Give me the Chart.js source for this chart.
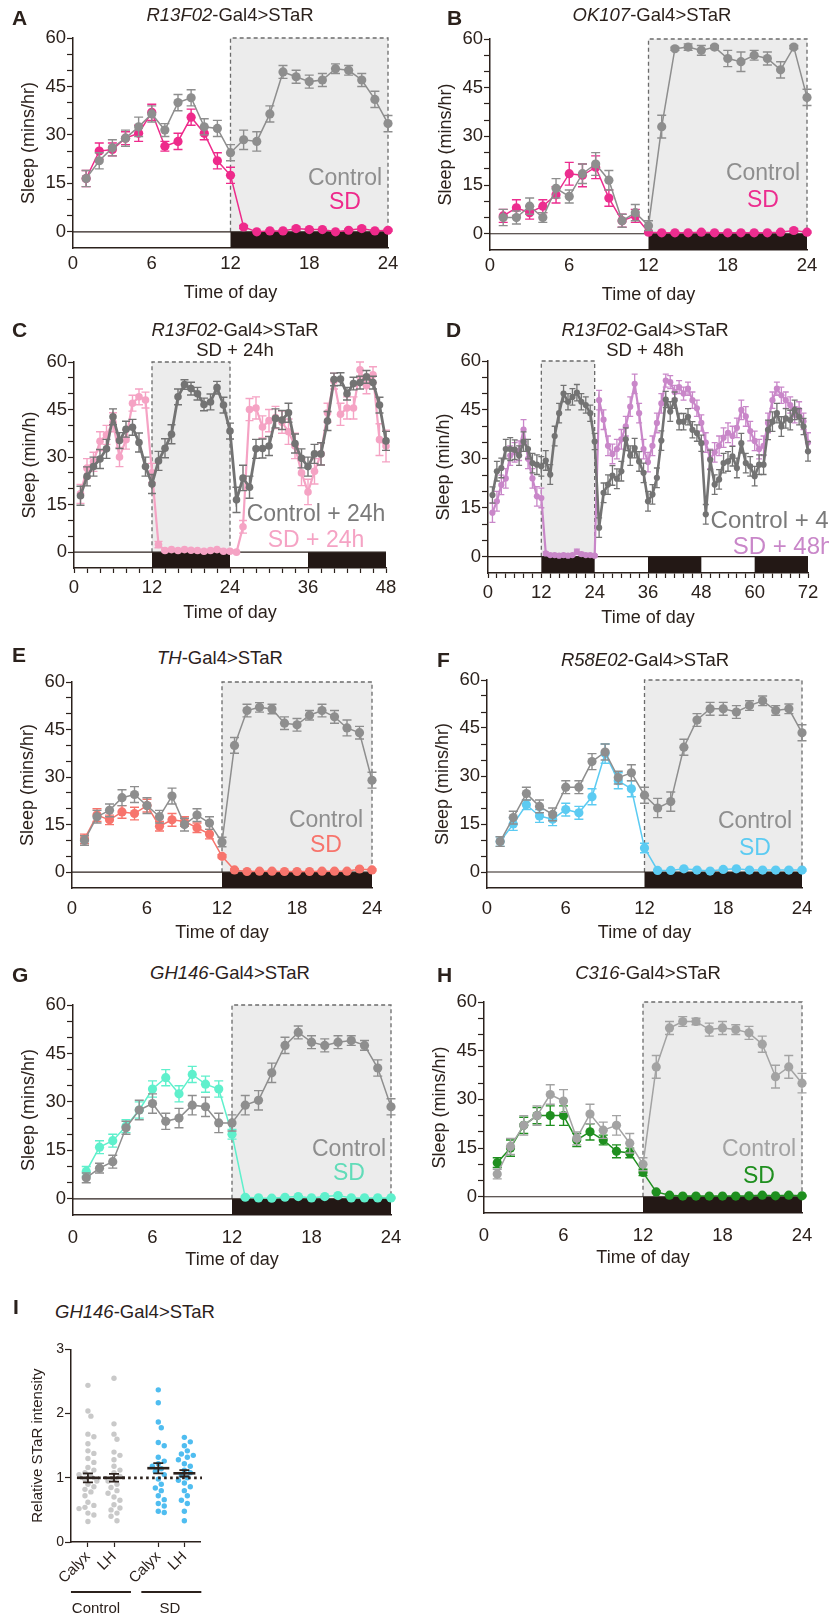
<!DOCTYPE html>
<html>
<head>
<meta charset="utf-8">
<script src="https://cdn.jsdelivr.net/npm/chart.js@4.4.1/dist/chart.umd.min.js"></script>
<style>
body { margin: 0; width: 829px; height: 1619px; position: relative; overflow: hidden; background: #fff;
       font-family: "Liberation Sans", Arial, sans-serif; color: #2b211c; }
canvas { position: absolute; }
.ttl { position: absolute; white-space: nowrap; transform: translate(-50%, -50%); font-size: 18.5px; line-height: 20px; z-index: 2; }
.let { position: absolute; font-weight: bold; font-size: 21px; transform: translateY(-50%); z-index: 2; }
.lg { position: absolute; white-space: nowrap; transform: translate(-50%, -50%); font-size: 23px; line-height: 1; z-index: 2; }
.grp { position: absolute; white-space: nowrap; transform: translate(-50%, -50%); font-size: 15px; z-index: 2; }
</style>
</head>
<body>

<div class="let" style="left:12px;top:18px">A</div>
<div class="let" style="left:447px;top:18px">B</div>
<div class="let" style="left:12px;top:330px">C</div>
<div class="let" style="left:446px;top:330px">D</div>
<div class="let" style="left:12px;top:655px">E</div>
<div class="let" style="left:437px;top:660px">F</div>
<div class="let" style="left:12px;top:975px">G</div>
<div class="let" style="left:437px;top:975px">H</div>
<div class="let" style="left:13px;top:1307px">I</div>

<div class="ttl" style="left:230px;top:15px"><i>R13F02</i>-Gal4&gt;STaR</div>
<div class="ttl" style="left:652px;top:15px"><i>OK107</i>-Gal4&gt;STaR</div>
<div class="ttl" style="left:235px;top:340px;text-align:center"><i>R13F02</i>-Gal4&gt;STaR<br>SD + 24h</div>
<div class="ttl" style="left:645px;top:340px;text-align:center"><i>R13F02</i>-Gal4&gt;STaR<br>SD + 48h</div>
<div class="ttl" style="left:220px;top:658px"><i>TH</i>-Gal4&gt;STaR</div>
<div class="ttl" style="left:645px;top:660px"><i>R58E02</i>-Gal4&gt;STaR</div>
<div class="ttl" style="left:230px;top:973px"><i>GH146</i>-Gal4&gt;STaR</div>
<div class="ttl" style="left:648px;top:973px"><i>C316</i>-Gal4&gt;STaR</div>
<div class="ttl" style="left:135px;top:1312px"><i>GH146</i>-Gal4&gt;STaR</div>

<div class="lg" style="left:345px;top:177px;color:#8e8e8e">Control</div>
<div class="lg" style="left:345px;top:201px;color:#ee2a8b">SD</div>
<div class="lg" style="left:763px;top:172px;color:#8e8e8e">Control</div>
<div class="lg" style="left:763px;top:199px;color:#ec2d8f">SD</div>
<div class="lg" style="left:316px;top:513px;color:#7a7a7a">Control + 24h</div>
<div class="lg" style="left:316px;top:539px;color:#f5a3c4">SD + 24h</div>
<div class="lg" style="left:783px;top:520px;color:#7a7a7a;font-size:24px">Control + 48h</div>
<div class="lg" style="left:783px;top:546px;color:#c987c9;font-size:24px">SD + 48h</div>
<div class="lg" style="left:326px;top:819px;color:#8e8e8e">Control</div>
<div class="lg" style="left:326px;top:844px;color:#f7746c">SD</div>
<div class="lg" style="left:755px;top:820px;color:#8e8e8e">Control</div>
<div class="lg" style="left:755px;top:847px;color:#5ccbf2">SD</div>
<div class="lg" style="left:349px;top:1148px;color:#8e8e8e">Control</div>
<div class="lg" style="left:349px;top:1172px;color:#62dcb9">SD</div>
<div class="lg" style="left:759px;top:1148px;color:#a3a3a3">Control</div>
<div class="lg" style="left:759px;top:1175px;color:#1f8f1f">SD</div>

<div class="grp" style="left:96px;top:1607px">Control</div>
<div class="grp" style="left:170px;top:1607px">SD</div>

<script>
// ---- data ----
const hours24 = [1, 2, 3, 4, 5, 6, 7, 8, 9, 10, 11, 12, 13, 14, 15, 16, 17, 18, 19, 20, 21, 22, 23, 24];
const hours48 = [1, 2, 3, 4, 5, 6, 7, 8, 9, 10, 11, 12, 13, 14, 15, 16, 17, 18, 19, 20, 21, 22, 23, 24,
                 25, 26, 27, 28, 29, 30, 31, 32, 33, 34, 35, 36, 37, 38, 39, 40, 41, 42, 43, 44, 45, 46, 47, 48];
const hours72 = [1, 2, 3, 4, 5, 6, 7, 8, 9, 10, 11, 12, 13, 14, 15, 16, 17, 18, 19, 20, 21, 22, 23, 24,
                 25, 26, 27, 28, 29, 30, 31, 32, 33, 34, 35, 36, 37, 38, 39, 40, 41, 42, 43, 44, 45, 46, 47, 48,
                 49, 50, 51, 52, 53, 54, 55, 56, 57, 58, 59, 60, 61, 62, 63, 64, 65, 66, 67, 68, 69, 70, 71, 72];

// A  R13F02
const ctrlA = [16.5, 22, 26, 29, 32.5, 36.5, 31.5, 40, 41.5, 32.5, 32, 24.5, 28.5, 28, 36.5, 49.5, 48, 46.5, 47, 50.5, 50, 47, 41, 33.5];
const ctrlAErr = [2.5, 2.5, 2.5, 2.5, 3, 2.5, 2, 2.5, 2.5, 2.5, 2.5, 2.5, 3, 3, 2.5, 2, 2, 2, 2, 1.5, 1.5, 2, 2.5, 2.5];
const sdA = [16.5, 25, 25.5, 29, 30.5, 37, 26.5, 28, 35.5, 30.5, 22, 17.5, 1.5, 0, 0.3, 0.3, 1, 0.7, 0.7, 0, 0.5, 1, 0.3, 0.5];
const sdAErr = [2.5, 2.5, 2, 2, 2.5, 2.5, 1.5, 2.5, 2.5, 2, 2.5, 2.5, 0.5, 0, 0.3, 0.3, 0.5, 0.3, 0.3, 0, 0.3, 0.5, 0.3, 0.3];

// B  OK107
const ctrlB = [5, 5, 8.5, 5, 14, 11.5, 18.5, 21.5, 16.5, 4, 6.5, 2.5, 33, 57, 57.5, 56.5, 57.5, 54, 53, 55, 54, 50.5, 57.5, 42];
const ctrlBErr = [2.5, 2, 2.5, 1.5, 3, 2, 3, 3.5, 3, 2, 2.5, 1.5, 3.5, 0.5, 1, 1.5, 0.5, 2.5, 3, 1.5, 2, 2.5, 0.5, 2.5];
const sdB = [5.5, 8, 6.5, 8.5, 12, 18.5, 18, 20.5, 11, 4, 5.5, 0.5, 0.3, 0.3, 0.3, 0.5, 0.3, 0.3, 0.3, 0.3, 0.3, 0.5, 1, 0.5];
const sdBErr = [2, 2.5, 2, 2, 2.5, 3.5, 3.5, 3.5, 2.5, 2, 2, 0.3, 0.2, 0.2, 0.2, 0.3, 0.2, 0.2, 0.2, 0.2, 0.2, 0.3, 0.5, 0.3];

// C  SD + 24h
const ctrlC = [17.8, 23.9, 27, 29.4, 32.6, 42.7, 35.2, 38.8, 39.4, 34.6, 27, 21.5, 28.8, 32.8, 37.2, 49, 52.9, 51.6, 50, 46.6, 47.4, 51.9, 46.4, 38.2,
               16.5, 23.4, 20.5, 32.6, 32.7, 33.5, 42.2, 41.7, 44, 34.3, 29.6, 27, 31, 31, 41.4, 54.5, 54.6, 50, 53.2, 53.5, 55.3, 53.5, 46.4, 35.1];
const ctrlCErr = [3, 3, 3, 3, 3, 2.5, 2.5, 2.5, 2.5, 3, 3, 3, 3, 3, 3, 2.5, 1.5, 2, 2, 2, 2.5, 2, 2.5, 2.5,
                  4, 4, 3.5, 3, 3, 3, 3, 3, 3, 3, 3, 3, 3, 3.5, 3, 2, 2, 2, 2, 2, 2, 2, 2.5, 3];
const sdC = [18.4, 26.5, 28.5, 35, 37, 41, 30, 35.5, 47, 49, 48, 25, 2.4, 0.5, 0.8, 0.5, 0.8, 0.6, 0.5, 0.3, 0.5, 0.8, 0.3, 0.3,
             0, 8, 45, 45.5, 39.5, 41.5, 42.5, 41, 38, 33.5, 25, 19, 25.5, 31, 44, 54, 43.5, 45.5, 45.5, 57.5, 52.5, 56, 35.5, 33.5];
const sdCErr = [3, 3, 3, 3, 3, 3, 3, 3, 2.5, 2.5, 2.5, 3, 1, 0.3, 0.3, 0.3, 0.3, 0.3, 0.3, 0.3, 0.3, 0.3, 0.3, 0.3,
                0, 2, 3.5, 3.5, 3.5, 3.5, 3.5, 3.5, 4, 4, 4, 4, 4, 3.5, 3, 2.5, 3.5, 3.5, 3.5, 2.5, 2.5, 2.5, 5, 5];

// D  SD + 48h
const ctrlD = [18.9, 26.2, 27.2, 33, 33, 32.8, 31, 35.3, 33, 28.7, 28.2, 27.7, 29.5, 25.2, 37, 44, 50, 47.5, 49, 50.3, 47.5, 46.5, 44, 35.3,
               8.9, 19.6, 22.1, 24.9, 23.9, 26.2, 36, 31, 33.3, 29.2, 25.7, 17, 19.1, 24.2, 35.6, 48.2, 44.5, 48, 41.4, 41.4, 42.9, 38.9, 37.9, 34.8,
               13, 29.7, 22.1, 23.7, 28.7, 29.2, 30.8, 27.2, 34.8, 28.7, 27.7, 24.7, 28.2, 28.2, 38.9, 41.4, 44, 39.9, 42.4, 41.9, 45, 42.9, 39.9, 32.3];
const ctrlDErr = [2.5, 3, 3, 3, 3.5, 3, 3, 3, 3, 3, 3, 3, 3, 3, 3, 3, 2.5, 2.5, 2.5, 2.5, 2.5, 2.5, 2.5, 2.5,
                  3, 3, 3, 3, 3, 3, 3.5, 3, 3, 3, 3, 3, 3, 3, 3, 2.5, 3, 2.5, 2.5, 2.5, 2.5, 2.5, 2.5, 2.5,
                  3, 3, 3, 3, 3, 3, 3, 3, 3, 3, 3, 3, 3, 3, 3, 3, 3, 3, 3, 3, 3, 2.5, 2.5, 3];
const sdD = [13.5, 17, 22, 24, 31, 32, 32.5, 39, 30, 24, 18.5, 18, 1, 0.5, 0.5, 0.3, 0.5, 0.3, 0.5, 1.5, 0.8, 0.5, 0.5, 0.3,
             48, 42, 34, 31.5, 33, 36, 40, 46, 53, 44, 33, 29, 34, 41, 47, 54, 53.5, 50.5, 52, 50, 51.5, 48, 45.5, 41,
             35, 30, 32, 34, 36.5, 38, 37, 39.5, 45, 43, 38.5, 35.5, 33, 34, 41, 48, 51.5, 49.5, 48, 46.5, 43.5, 45, 41.5, 35];
const sdDErr = [3, 3, 3, 3, 3, 3, 3, 3, 3, 3, 3, 3, 0.5, 0.3, 0.3, 0.3, 0.3, 0.3, 0.3, 0.8, 0.5, 0.3, 0.3, 0.3,
                3, 3, 3, 3, 3, 3, 3, 3, 3, 3, 3, 3, 3, 3, 3, 2, 2, 2, 2, 2, 2, 2.5, 2.5, 2.5,
                3, 3, 3, 3, 3, 3, 3, 3, 3, 3, 3, 3, 3, 3, 3, 2.5, 2, 2.5, 2.5, 2.5, 2.5, 2.5, 2.5, 3];

// E  TH
const ctrlE = [10, 17.5, 19.5, 23.5, 24.5, 21, 17.5, 24, 15, 18, 15.5, 9.5, 40, 51, 52, 51.5, 47, 46.5, 49.5, 51, 49, 45.5, 44, 29];
const ctrlEErr = [1.5, 2, 2, 2.5, 2.5, 2.5, 2, 2.5, 2, 2, 2, 1.5, 2.5, 2, 1.5, 1.5, 2, 2, 1.5, 2, 2, 2.5, 2, 2.5];
const sdE = [10.5, 18, 16.5, 19, 18.5, 21, 14.5, 16.5, 16, 14, 12, 5, 0.7, 0.2, 0.3, 0.3, 0.2, 0.2, 0.2, 0.3, 0.3, 0.3, 1, 0.7];
const sdEErr = [1.5, 2, 1.5, 2, 2, 2, 1.5, 2, 1.5, 1.5, 1.5, 0.5, 0.3, 0.2, 0.2, 0.2, 0.2, 0.2, 0.2, 0.2, 0.2, 0.2, 0.3, 0.3];

// F  R58E02
const ctrlF = [9.5, 17, 24.5, 20.5, 18, 26.5, 26.5, 34.5, 37.5, 29.5, 31, 24, 20, 22, 39, 47.5, 51, 51, 50, 52, 53.5, 50.5, 51, 43.5];
const ctrlFErr = [1.5, 2, 2, 2, 2, 2, 2, 2.5, 2.5, 2, 2.5, 2.5, 3, 3, 2.5, 2, 2, 2, 2, 1.5, 1.5, 1.5, 1.5, 2.5];
const sdF = [9.5, 15, 21, 17.5, 16.5, 19.5, 18.5, 23.5, 37, 28.5, 26, 7.5, 0.5, 0.5, 1, 0.6, 0.3, 0.8, 1, 0.6, 0.6, 0.6, 0.6, 0.6];
const sdFErr = [1.5, 2, 1.5, 2, 2, 2, 2, 2.5, 3, 2.5, 2.5, 1.5, 0.3, 0.3, 0.3, 0.3, 0.3, 0.3, 0.3, 0.3, 0.3, 0.3, 0.3, 0.3];

// G  GH146
const ctrlG = [6.5, 9.5, 11.5, 22, 27.5, 29.5, 24, 25, 29, 28.5, 23.5, 23.5, 29, 30.5, 39, 47.5, 51.5, 48.5, 47.5, 48.5, 49, 47.5, 40.5, 28.5];
const ctrlGErr = [1.5, 1.5, 2, 2, 3, 3, 2.5, 3, 3, 3, 3, 2.5, 3, 3, 3, 2.5, 2, 2, 2, 2, 1.5, 1.5, 2.5, 2.5];
const sdG = [8.5, 16, 18, 22.5, 27.5, 34, 37.5, 32.5, 38.5, 35.5, 34, 20, 0.5, 0.3, 0.2, 0.5, 0.7, 0.3, 0.7, 1, 0.3, 0.3, 0.3, 0.3];
const sdGErr = [1.5, 2, 2, 2, 2.5, 2.5, 2.5, 2.5, 2.5, 2.5, 2.5, 1.5, 0.3, 0.2, 0.2, 0.2, 0.3, 0.2, 0.3, 0.3, 0.2, 0.2, 0.2, 0.2];

// H  C316
const ctrlH = [7, 15.5, 22, 25, 31.5, 29.5, 18, 25.5, 20.5, 22, 16.5, 10, 40, 52, 54, 54, 51.5, 52, 51.5, 50.5, 47, 37, 40, 35];
const ctrlHErr = [1.5, 2.5, 3, 3, 3, 3.5, 2, 3, 2.5, 3, 3, 2, 3.5, 2, 1.5, 1, 2, 2, 1.5, 2, 2.5, 3.5, 3.5, 3];
const sdH = [10.5, 15, 22, 25, 25, 25, 17.5, 20, 17.5, 14, 13.5, 7.5, 1.5, 0.5, 0.2, 0.2, 0.2, 0.2, 0.2, 0.3, 0.5, 0.3, 0.5, 0.3];
const sdHErr = [1.5, 2.5, 2.5, 2.5, 3, 3, 2, 2.5, 1.5, 2, 1.5, 1, 0.3, 0.2, 0.2, 0.2, 0.2, 0.2, 0.2, 0.2, 0.2, 0.2, 0.2, 0.2];

// I  relative STaR intensity
const iLabels = ['Calyx', 'LH', 'Calyx', 'LH'];
const iCtrlCalyx = [2.44, 2.04, 1.96, 1.68, 1.64, 1.53, 1.42, 1.38, 1.30, 1.24, 1.16, 1.12, 1.08, 1.05, 1.02, 0.98, 0.95,
                    0.90, 0.86, 0.82, 0.78, 0.72, 0.62, 0.57, 0.54, 0.52, 0.45, 0.42, 0.32];
const iCtrlLH = [2.55, 1.84, 1.68, 1.60, 1.40, 1.35, 1.28, 1.18, 1.12, 1.08, 1.02, 0.98, 0.95, 0.90, 0.85, 0.80, 0.76,
                 0.70, 0.65, 0.58, 0.53, 0.50, 0.45, 0.40, 0.33];
const iSdCalyx = [2.37, 2.17, 1.87, 1.78, 1.55, 1.50, 1.32, 1.26, 1.22, 1.18, 1.14, 1.10, 1.05, 0.98, 0.90, 0.84, 0.80,
                  0.72, 0.66, 0.60, 0.56, 0.48, 0.46];
const iSdLH = [1.63, 1.56, 1.50, 1.42, 1.37, 1.35, 1.32, 1.28, 1.22, 1.18, 1.12, 1.08, 1.04, 1.00, 0.96, 0.92, 0.86,
               0.80, 0.72, 0.65, 0.60, 0.48, 0.33];
const iMean = [1.0, 1.0, 1.15, 1.07];
const iSem = [0.07, 0.06, 0.08, 0.05];

// ---- drawing ----
const INK = '#2b211c';
const GRAY = '#8e8e8e';
const DARKGRAY = '#737373';
Chart.defaults.font.family = '"Liberation Sans", Arial, sans-serif';
Chart.defaults.color = INK;

const Y_W = 73, PAD_T = 14, X_H = 62;

function decorPlugin(p) {
  return {
    id: 'decor',
    beforeDatasetsDraw(chart) {
      const { ctx, scales: { x, y } } = chart;
      ctx.save();
      // light phase box
      const bx0 = x.getPixelForValue(p.shade[0]), bx1 = x.getPixelForValue(p.shade[1]);
      const by0 = y.getPixelForValue(60), by1 = y.getPixelForValue(0);
      ctx.fillStyle = '#ececec';
      ctx.fillRect(bx0, by0, bx1 - bx0, by1 - by0);
      ctx.setLineDash([4, 3]);
      ctx.strokeStyle = '#6b6b6b';
      ctx.lineWidth = 1.3;
      ctx.beginPath();
      ctx.moveTo(bx0, by1); ctx.lineTo(bx0, by0); ctx.lineTo(bx1, by0); ctx.lineTo(bx1, by1);
      ctx.stroke();
      ctx.setLineDash([]);
      // light/dark bar
      const z = y.getPixelForValue(0), b = y.getPixelForValue(-5);
      ctx.fillStyle = '#231815';
      p.dark.forEach(([a, c]) => {
        const xa = x.getPixelForValue(a), xc = x.getPixelForValue(c);
        ctx.fillRect(xa, z, xc - xa, b - z);
      });
      ctx.strokeStyle = INK;
      ctx.lineWidth = 1.2;
      ctx.beginPath();
      ctx.moveTo(x.getPixelForValue(0), z);
      ctx.lineTo(x.getPixelForValue(p.xmax), z);
      ctx.stroke();
      ctx.restore();
    },
    beforeDatasetDraw(chart, args) {
      const ds = chart.data.datasets[args.index];
      if (!ds.err) return;
      const { ctx, scales: { x, y } } = chart;
      ctx.save();
      ctx.strokeStyle = ds.borderColor;
      ctx.lineWidth = ds.errWidth;
      ds.data.forEach((pt, i) => {
        const e = ds.err[i];
        if (!e) return;
        const px = x.getPixelForValue(pt.x);
        const y1 = y.getPixelForValue(pt.y - e), y2 = y.getPixelForValue(pt.y + e);
        ctx.beginPath();
        ctx.moveTo(px, y1); ctx.lineTo(px, y2);
        ctx.moveTo(px - ds.cap, y1); ctx.lineTo(px + ds.cap, y1);
        ctx.moveTo(px - ds.cap, y2); ctx.lineTo(px + ds.cap, y2);
        ctx.stroke();
      });
      ctx.restore();
    }
  };
}

function addCanvas(left, top, w, h) {
  const cv = document.createElement('canvas');
  cv.width = w; cv.height = h;
  cv.style.left = left + 'px'; cv.style.top = top + 'px';
  cv.style.width = w + 'px'; cv.style.height = h + 'px';
  document.body.appendChild(cv);
  return cv;
}

function sleepPanel(p) {
  const [l, t, r, b] = p.box;
  const cv = addCanvas(l - Y_W, t - PAD_T, r - l + Y_W + p.padR, b - t + PAD_T + X_H);
  new Chart(cv, {
    type: 'scatter',
    data: {
      datasets: p.series.map(s => ({
        data: p.hours.map((h, i) => ({ x: h, y: s.values[i] })),
        err: s.err, errWidth: s.ew, cap: s.cap,
        showLine: true,
        borderColor: s.color, backgroundColor: s.color,
        borderWidth: s.lw,
        pointRadius: s.r, pointHoverRadius: s.r, pointBorderWidth: 0,
        clip: false
      }))
    },
    options: {
      responsive: false, maintainAspectRatio: false, animation: false, events: [],
      layout: { padding: { top: PAD_T, right: p.padR, left: 0, bottom: 0 }, autoPadding: false },
      plugins: { legend: { display: false }, tooltip: { enabled: false } },
      scales: {
        x: {
          type: 'linear', min: 0, max: p.xmax,
          afterFit: s => { s.height = X_H; },
          ticks: { stepSize: p.xStep, autoSkip: false, maxRotation: 0,
                   callback: v => (v % p.xLabel === 0 ? v : ''),
                   font: { size: 18.5 }, color: INK, padding: p.tickPad },
          grid: { drawOnChartArea: false, drawTicks: p.xTicks, tickLength: 5,
                  tickColor: p.xTickColor, tickWidth: 1.2 },
          border: { color: INK, width: 1.5 },
          title: { display: true, text: 'Time of day', font: { size: 18 }, color: INK,
                   padding: { top: 0, bottom: 6 } }
        },
        y: {
          min: -5, max: 60,
          afterFit: s => { s.width = Y_W; },
          ticks: { stepSize: 5, autoSkip: false,
                   callback: v => (v >= 0 && v % 15 === 0 ? v : ''),
                   font: { size: 18.5 }, color: INK, padding: 1 },
          grid: { drawOnChartArea: false, tickLength: 6, tickWidth: 1.2,
                  tickColor: c => (c.tick && c.tick.value < 0 ? 'rgba(0,0,0,0)' : INK) },
          border: { color: INK, width: 1.5 },
          title: { display: true, text: p.yTitle, font: { size: 18 }, color: INK,
                   padding: { top: 18, bottom: 0 } }
        }
      }
    },
    plugins: [decorPlugin(p)]
  });
}

function day(box, padR, ctrl, ctrlErr, sd, sdErr, sdColor, ctrlColor, tickPad) {
  return {
    box, padR, hours: hours24, xmax: 24, xStep: 6, xLabel: 6,
    tickPad, xTicks: true, xTickColor: 'rgba(0,0,0,0)',
    yTitle: 'Sleep (mins/hr)',
    shade: [12, 24], dark: [[12, 24]],
    series: [
      { values: ctrl, err: ctrlErr, color: ctrlColor, lw: 1.5, r: 4.6, ew: 1.4, cap: 4.5 },
      { values: sd, err: sdErr, color: sdColor, lw: 1.5, r: 4.6, ew: 1.4, cap: 4.5 }
    ]
  };
}

sleepPanel(day([73, 38, 388, 248], 24, ctrlA, ctrlAErr, sdA, sdAErr, '#ee2a8b', GRAY, 0));
sleepPanel(day([490, 39, 807, 250], 22, ctrlB, ctrlBErr, sdB, sdBErr, '#ec2d8f', GRAY, 0));
sleepPanel(day([72, 682, 372, 888], 24, ctrlE, ctrlEErr, sdE, sdEErr, '#f7746c', GRAY, 5));
sleepPanel(day([487, 680, 802, 888], 22, ctrlF, ctrlFErr, sdF, sdFErr, '#5ccbf2', GRAY, 5));
sleepPanel(day([73, 1005, 391, 1215], 22, ctrlG, ctrlGErr, sdG, sdGErr, '#5ff0cc', GRAY, 7));
sleepPanel(day([484, 1002, 802, 1213], 22, ctrlH, ctrlHErr, sdH, sdHErr, '#1f8f1f', '#a3a3a3', 7));

sleepPanel({
  box: [74, 362, 386, 568], padR: 24, hours: hours48, xmax: 48, xStep: 2, xLabel: 12,
  tickPad: 4, xTicks: true, xTickColor: INK,
  yTitle: 'Sleep (min/h)',
  shade: [12, 24], dark: [[12, 24], [36, 48]],
  series: [
    { values: ctrlC, err: ctrlCErr, color: DARKGRAY, lw: 2.8, r: 3.8, ew: 1.4, cap: 4 },
    { values: sdC, err: sdCErr, color: '#f5a3c4', lw: 2.2, r: 3.8, ew: 1.4, cap: 4 }
  ]
});

sleepPanel({
  box: [488, 361, 808, 573], padR: 21, hours: hours72, xmax: 72, xStep: 2, xLabel: 12,
  tickPad: 4, xTicks: true, xTickColor: INK,
  yTitle: 'Sleep (min/h)',
  shade: [12, 24], dark: [[12, 24], [36, 48], [60, 72]],
  series: [
    { values: ctrlD, err: ctrlDErr, color: DARKGRAY, lw: 2.6, r: 3.1, ew: 1.3, cap: 3 },
    { values: sdD, err: sdDErr, color: '#c987c9', lw: 2.2, r: 3.1, ew: 1.3, cap: 3 }
  ]
});

// ---- panel I ----
const I_BOX = [71, 1347, 200, 1542];
const I_XMIN = -0.65, I_XMAX = 4.3;
const catX = iLabels.map((_, i) => i + (i >= 2 ? 0.7 : 0));
const pxX = (I_BOX[2] - I_BOX[0]) / (I_XMAX - I_XMIN);
const pxY = (I_BOX[3] - I_BOX[1]) / 3;
const DOT_R = 2.7;

function swarm(values, cx) {
  const placed = [];
  const minD = 2 * DOT_R + 0.5;
  [...values].sort((a, b) => b - a).forEach(v => {
    const py = v * pxY;
    for (let k = 0; k < 40; k++) {
      const off = (k % 2 ? 1 : -1) * Math.ceil(k / 2) * DOT_R * 1.1;
      if (placed.every(q => (q.px - off) ** 2 + (q.py - py) ** 2 >= minD * minD)) {
        placed.push({ px: off, py });
        break;
      }
    }
  });
  return placed.map(q => ({ x: cx + q.px / pxX, y: q.py / pxY }));
}

const iGroups = [iCtrlCalyx, iCtrlLH, iSdCalyx, iSdLH];
const iColors = ['#c9c9c9', '#c9c9c9', '#4fbdf0', '#4fbdf0'];

const cvI = addCanvas(0, I_BOX[1] - 7, 215, 1619 - (I_BOX[1] - 7));
new Chart(cvI, {
  type: 'scatter',
  data: {
    datasets: iGroups.map((vals, i) => ({
      data: swarm(vals, catX[i]),
      backgroundColor: iColors[i], borderWidth: 0,
      pointRadius: DOT_R, pointHoverRadius: DOT_R, clip: false
    }))
  },
  options: {
    responsive: false, maintainAspectRatio: false, animation: false, events: [],
    layout: { padding: { top: 7, right: 215 - I_BOX[2], left: 0, bottom: 0 }, autoPadding: false },
    plugins: { legend: { display: false }, tooltip: { enabled: false } },
    scales: {
      x: {
        type: 'linear', min: I_XMIN, max: I_XMAX,
        afterFit: s => { s.height = 1619 - I_BOX[3]; },
        afterBuildTicks: s => { s.ticks = catX.map(v => ({ value: v })); },
        ticks: { autoSkip: false, minRotation: 45, maxRotation: 45,
                 callback: (v, i) => iLabels[i], font: { size: 15 }, color: INK, padding: 1 },
        grid: { drawOnChartArea: false, tickLength: 5, tickColor: INK, tickWidth: 1.2 },
        border: { color: INK, width: 1.5 }
      },
      y: {
        min: 0, max: 3,
        afterFit: s => { s.width = I_BOX[0]; },
        ticks: { stepSize: 1, font: { size: 14 }, color: INK, padding: 1 },
        grid: { drawOnChartArea: false, tickLength: 6, tickColor: INK, tickWidth: 1.2 },
        border: { color: INK, width: 1.5 },
        title: { display: true, text: 'Relative STaR intensity', font: { size: 15 }, color: INK,
                 padding: { top: 29, bottom: 0 } }
      }
    }
  },
  plugins: [{
    id: 'meanSem',
    afterDatasetsDraw(chart) {
      const { ctx, scales: { x, y } } = chart;
      ctx.save();
      // dotted reference line at 1
      ctx.strokeStyle = INK;
      ctx.lineWidth = 2.8;
      ctx.setLineDash([2.6, 3.4]);
      ctx.beginPath();
      ctx.moveTo(x.getPixelForValue(-0.3), y.getPixelForValue(1));
      ctx.lineTo(x.right + 2, y.getPixelForValue(1));
      ctx.stroke();
      ctx.setLineDash([]);
      iMean.forEach((m, i) => {
        const cx = x.getPixelForValue(catX[i]);
        const ym = y.getPixelForValue(m);
        const y1 = y.getPixelForValue(m - iSem[i]), y2 = y.getPixelForValue(m + iSem[i]);
        ctx.lineWidth = 2.6;
        ctx.beginPath(); ctx.moveTo(cx - 11, ym); ctx.lineTo(cx + 11, ym); ctx.stroke();
        ctx.lineWidth = 1.8;
        ctx.beginPath();
        ctx.moveTo(cx, y1); ctx.lineTo(cx, y2);
        ctx.moveTo(cx - 5, y1); ctx.lineTo(cx + 5, y1);
        ctx.moveTo(cx - 5, y2); ctx.lineTo(cx + 5, y2);
        ctx.stroke();
      });
      // group underlines
      const gy = chart.chartArea.bottom + 50;
      ctx.lineWidth = 2;
      [[catX[0], catX[1]], [catX[2], catX[3]]].forEach(([a, c]) => {
        const mid = (x.getPixelForValue(a) + x.getPixelForValue(c)) / 2;
        ctx.beginPath(); ctx.moveTo(mid - 30, gy); ctx.lineTo(mid + 30, gy); ctx.stroke();
      });
      ctx.restore();
    }
  }]
});
</script>
</body>
</html>
